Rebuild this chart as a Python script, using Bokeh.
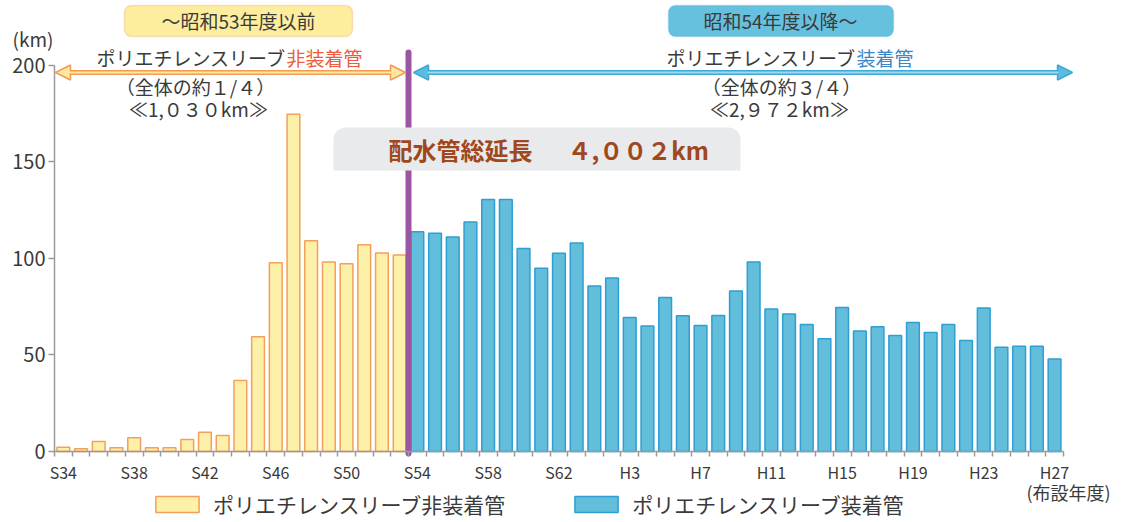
from bokeh.plotting import figure
from bokeh.models import (Range1d, FixedTicker, BoxAnnotation, Label, Arrow,
                          NormalHead, Legend, LegendItem, ColumnDataSource)
from bokeh.embed import file_html
from bokeh.resources import INLINE

# ---------------- data ----------------
showa = [f"S{n}" for n in range(34, 64)]
heisei = [f"H{n}" for n in range(1, 28)]
years = showa + heisei

# km per year, S34-S53 (no polyethylene sleeve)
non_jacketed = [2.2, 1.4, 5.2, 1.9, 7.1, 1.9, 1.9, 6.2, 10.0, 8.3,
                36.7, 59.4, 97.7, 174.5, 109.0, 98.0, 97.2, 107.0, 102.7, 101.7]
# km per year, S54-H27 (with polyethylene sleeve)
jacketed = [113.7, 113.0, 111.0, 118.7, 130.4, 130.4, 105.0, 94.8, 102.6, 107.9,
            85.7, 89.8, 69.3, 64.9, 79.7, 70.2, 65.2, 70.4, 83.0, 98.1,
            73.7, 71.1, 65.7, 58.3, 74.5, 62.3, 64.5, 60.0, 66.8, 61.6,
            65.7, 57.5, 74.2, 53.9, 54.4, 54.4, 47.9]
y_ticks = [0, 50, 100, 150, 200]
tick_every = 4

FONT = "Noto Sans CJK JP"
TXT = "#3a3a3a"
W, H = 1128, 522

# layout helpers (pixel -> data) for annotations
PX_X = 17.7
PX_Y = 1.9325
X0, Y0 = 54, 451
def dx(px):
    return (px - X0) / PX_X
def dy(py):
    return (Y0 - py) / PX_Y

n_non = len(non_jacketed)
src_non = ColumnDataSource(dict(x=[i + 0.5 for i in range(n_non)], top=non_jacketed,
                                year=years[:n_non]))
src_jac = ColumnDataSource(dict(x=[n_non + i + 0.5 for i in range(len(jacketed))], top=jacketed,
                                year=years[n_non:]))

p = figure(width=W, height=H, output_backend="svg", toolbar_location=None,
           x_range=Range1d(dx(0), dx(W)), y_range=Range1d(dy(H), dy(0)),
           min_border_left=0, min_border_right=0, min_border_top=0, min_border_bottom=0)
p.outline_line_color = None
p.xgrid.visible = False
p.ygrid.visible = False
p.background_fill_color = "white"

r1 = p.vbar(x="x", top="top", width=0.72, source=src_non,
            fill_color="#fdf0a8", line_color="#f3a05c", line_width=1.5)
r2 = p.vbar(x="x", top="top", width=0.72, source=src_jac,
            fill_color="#63bedb", line_color="#2f9ed2", line_width=1.5)

# purple divider
p.segment(x0=[n_non], y0=[dy(453)], x1=[n_non], y1=[dy(52)], line_color="#9c55a3",
          line_width=6, line_cap="round")

# x axis
n_all = len(years)
major = [i + 0.5 for i in range(0, n_all, tick_every)]
xa = p.xaxis[0]
xa.fixed_location = 0
xa.ticker = FixedTicker(ticks=major, minor_ticks=list(range(0, n_all + 1)))
xa.major_label_overrides = {m: years[int(m)] for m in major}
xa.bounds = (0, n_all)
xa.major_tick_out = 0
xa.major_tick_in = 0
xa.minor_tick_out = 5
xa.minor_tick_in = 0
xa.axis_line_color = "#9a9a9a"
xa.axis_line_width = 1.5
xa.minor_tick_line_color = "#9a9a9a"
xa.minor_tick_line_width = 1.5
xa.major_label_standoff = 3
xa.major_label_text_font = FONT
xa.major_label_text_font_size = "16px"
xa.major_label_text_color = TXT

ya = p.yaxis[0]
ya.fixed_location = 0
ya.ticker = FixedTicker(ticks=y_ticks)
ya.bounds = (0, 200)
ya.major_tick_out = 6
ya.major_tick_in = 0
ya.minor_tick_out = 0
ya.minor_tick_in = 0
ya.axis_line_color = "#9a9a9a"
ya.axis_line_width = 1.5
ya.major_tick_line_color = "#9a9a9a"
ya.major_tick_line_width = 1.5
ya.major_label_standoff = 3
ya.major_label_text_font = FONT
ya.major_label_text_font_size = "20px"
ya.major_label_text_color = TXT

def lab(x, y, text, size="19px", color=TXT, align="center", bold=False):
    p.add_layout(Label(x=x, y=y, text=text, text_font=FONT, text_font_size=size,
                       text_color=color, text_align=align, text_baseline="middle",
                       text_font_style="bold" if bold else "normal"))

lab(dx(12), dy(38), "(km)", size="19px", align="left")
lab(dx(1026), dy(491), "(布設年度)", size="18px", align="left")

# top boxes
p.add_layout(BoxAnnotation(left=dx(124), right=dx(352), top=dy(5), bottom=dy(36),
                           fill_color="#fdee9f", fill_alpha=1, line_color="#f3a05c",
                           line_width=1.5, border_radius=7))
p.add_layout(BoxAnnotation(left=dx(668), right=dx(893), top=dy(5), bottom=dy(36),
                           fill_color="#66c1de", fill_alpha=1, line_color="#4aafd6",
                           line_width=1.5, border_radius=7))
lab(dx(238), dy(20), "～昭和53年度以前", size="19px")
lab(dx(780), dy(20), "昭和54年度以降～", size="19px")

# sub headers
lab(dx(286), dy(57), "ポリエチレンスリーブ", align="right")
lab(dx(286), dy(57), "非装着管", color="#ee5a3c", align="left")
lab(dx(856), dy(57), "ポリエチレンスリーブ", align="right")
lab(dx(856), dy(57), "装着管", color="#3b86c8", align="left")
lab(dx(195), dy(86), "（全体の約１/４）")
lab(dx(198), dy(108), "≪1,０３０km≫")
lab(dx(781), dy(86), "（全体の約３/４）")
lab(dx(779), dy(108), "≪2,９７２km≫")

# arrows
ya_arrow = dy(72)
p.add_layout(Arrow(x_start=dx(55), y_start=ya_arrow, x_end=dx(405), y_end=ya_arrow,
                   line_color="#f39a55", line_width=5,
                   start=NormalHead(size=15, fill_color="#fde8a0", line_color="#f39a55", line_width=1.5),
                   end=NormalHead(size=15, fill_color="#fde8a0", line_color="#f39a55", line_width=1.5)))
p.add_layout(Arrow(x_start=dx(69), y_start=ya_arrow, x_end=dx(391), y_end=ya_arrow,
                   line_color="#fde8a0", line_width=2, start=None, end=None))
p.add_layout(Arrow(x_start=dx(413), y_start=ya_arrow, x_end=dx(1072), y_end=ya_arrow,
                   line_color="#3ea8d6", line_width=5,
                   start=NormalHead(size=15, fill_color="#5cbbde", line_color="#3ea8d6", line_width=1.5),
                   end=NormalHead(size=15, fill_color="#5cbbde", line_color="#3ea8d6", line_width=1.5)))
p.add_layout(Arrow(x_start=dx(427), y_start=ya_arrow, x_end=dx(1058), y_end=ya_arrow,
                   line_color="#9fd8ee", line_width=2, start=None, end=None))

# total box
p.add_layout(BoxAnnotation(left=dx(333), right=dx(740), top=dy(127), bottom=dy(170),
                           fill_color="#e8eaec", fill_alpha=1, line_color=None,
                           border_radius=(12, 12, 0, 0)))
lab(dx(388), dy(149), "配水管総延長", size="24px", color="#a0471c", align="left", bold=True)
lab(dx(567), dy(149), "４,００２km", size="24px", color="#a0471c", align="left", bold=True)

legend = Legend(items=[LegendItem(label="ポリエチレンスリーブ非装着管", renderers=[r1]),
                       LegendItem(label="ポリエチレンスリーブ装着管", renderers=[r2])],
                location=(150, 3), orientation="horizontal",
                glyph_width=54, glyph_height=20, label_standoff=9, spacing=64,
                padding=0, margin=0, border_line_color=None, background_fill_color=None,
                background_fill_alpha=0,
                label_text_font=FONT, label_text_font_size="21px", label_text_color=TXT)
p.add_layout(legend)

open("out.html", "w").write(file_html(p, INLINE))
